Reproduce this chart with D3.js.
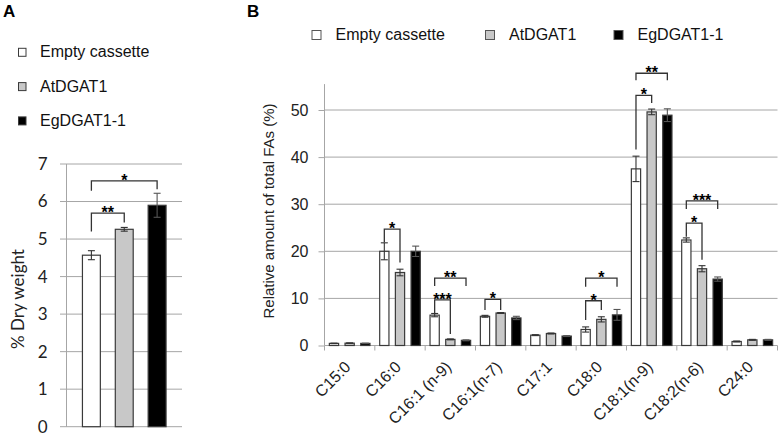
<!DOCTYPE html>
<html>
<head>
<meta charset="utf-8">
<script src="https://cdn.jsdelivr.net/npm/d3@7"></script>
<style>
  html, body { margin: 0; padding: 0; background: #fff; }
  svg { display: block; }
</style>
</head>
<body>
<div id="chart"></div>
<script>
// ---------------- data ----------------
const seriesNames = ["Empty cassette", "AtDGAT1", "EgDGAT1-1"];
const seriesFill = ["#ffffff", "#c8c8c8", "#000000"];

// Panel A: % dry weight
const dryWeightMean = [4.57, 5.26, 5.90];
const dryWeightErr = [0.12, 0.05, 0.32];
const dryWeightTicks = [0, 1, 2, 3, 4, 5, 6, 7];
// brackets: [from series, to series, level, left leg bottom, right leg bottom, label]
const bracketsA = [
  [0, 1, 5.69, 5.20, 5.44, "**"],
  [0, 2, 6.55, 6.29, 6.33, "*"]
];

// Panel B: fatty acid composition
const faCategories = ["C15:0", "C16:0", "C16:1 (n-9)", "C16:1(n-7)", "C17:1", "C18:0", "C18:1(n-9)", "C18:2(n-6)", "C24:0"];
const faEmpty   = [0.45, 20.0, 6.45, 6.2, 2.2, 3.4, 37.5, 22.4, 0.85];
const faAt      = [0.50, 15.5, 1.3, 6.9, 2.55, 5.55, 49.6, 16.3, 1.2];
const faEg      = [0.45, 20.0, 1.1, 5.85, 2.0, 6.5, 48.9, 14.1, 1.2];
const faEmptyErr = [0.05, 1.8, 0.35, 0.2, 0.1, 0.55, 2.7, 0.45, 0.1];
const faAtErr    = [0.05, 0.7, 0.1, 0.1, 0.1, 0.55, 0.6, 0.65, 0.1];
const faEgErr    = [0.05, 1.1, 0.1, 0.35, 0.1, 1.15, 1.35, 0.45, 0.1];
const faTicks = [0, 10, 20, 30, 40, 50];
// brackets: [category index, from series, to series, level, left leg bottom, right leg bottom, label]
const bracketsB = [
  [1, 0, 1, 24.7, 21.9, 17.6, "*"],
  [2, 0, 1, 9.7, 6.9, 2.45, "***"],
  [2, 0, 2, 14.3, 12.65, 12.65, "**"],
  [3, 0, 1, 9.8, 7.55, 7.55, "*"],
  [5, 0, 1, 9.5, 5.4, 7.55, "*"],
  [5, 0, 2, 14.3, 12.5, 12.5, "*"],
  [6, 0, 1, 53.1, 41.6, 51.5, "*"],
  [6, 0, 2, 57.8, 56.3, 56.3, "**"],
  [7, 0, 1, 26.0, 23.1, 18.2, "*"],
  [7, 0, 2, 30.7, 29.0, 29.0, "***"]
];

// ---------------- drawing ----------------
const W = 780, H = 436;
const svg = d3.select("#chart").append("svg").attr("width", W).attr("height", H);

const stroke = "#3a3a3a";
const gridColor = "#a6a6a6";
const fontB = "'Liberation Sans', Arial, sans-serif";
const fontA = "Lato, 'Open Sans', sans-serif";

// ===== Panel A =====
const gA = svg.append("g");
gA.append("text").attr("x", 3).attr("y", 17).attr("font-family", fontB)
  .attr("font-weight", "bold").attr("font-size", 17).text("A");

// legend A
seriesNames.forEach((name, i) => {
  const yb = 57.3 + i * 34.3;
  gA.append("rect").attr("x", 18.5).attr("y", yb - 9).attr("width", 7.5).attr("height", 8)
    .attr("fill", seriesFill[i]).attr("stroke", stroke).attr("stroke-width", 1);
  gA.append("text").attr("x", 40).attr("y", yb).attr("font-family", fontB)
    .attr("font-size", 16).attr("fill", "#111").text(name);
});

const yA = d3.scaleLinear().domain([0, 7]).range([426.7, 164]);
const xA = d3.scaleBand().domain(d3.range(3)).range([66.5, 182]).paddingInner(0.455).paddingOuter(0.485);

// gridlines
gA.append("g").selectAll("line").data(dryWeightTicks).join("line")
  .attr("x1", 60).attr("x2", 182).attr("y1", d => yA(d)).attr("y2", d => yA(d))
  .attr("stroke", gridColor).attr("stroke-width", 1);
// axis
const axisA = d3.axisLeft(yA).tickValues(dryWeightTicks).tickFormat(d3.format("d")).tickSize(0).tickPadding(19);
const axA = gA.append("g").attr("transform", "translate(66.5,0)").call(axisA);
axA.select(".domain").attr("stroke", gridColor).attr("d", `M0,${yA(0)}V${yA(7)}`);
axA.selectAll("text").attr("font-family", fontA).attr("font-size", 17).attr("fill", "#222");
gA.append("text").attr("transform", `translate(24,299) rotate(-90)`)
  .attr("text-anchor", "middle").attr("font-family", fontA).attr("font-size", 17)
  .attr("fill", "#222").text("% Dry weight");

// bars
gA.append("g").selectAll("rect").data(dryWeightMean).join("rect")
  .attr("x", (d, i) => xA(i)).attr("width", xA.bandwidth())
  .attr("y", d => yA(d)).attr("height", d => yA(0) - yA(d))
  .attr("fill", (d, i) => seriesFill[i]).attr("stroke", stroke).attr("stroke-width", 1.2);
// error bars
const ebA = gA.append("g").attr("stroke", "#333").attr("stroke-width", 1.1);
dryWeightMean.forEach((m, i) => {
  const cx = xA(i) + xA.bandwidth() / 2;
  const e = dryWeightErr[i];
  const lo = yA(m - e), hi = yA(m + e);
  const col = i === 2 ? "#555" : "#333";
  ebA.append("line").attr("x1", cx).attr("x2", cx).attr("y1", lo).attr("y2", hi).attr("stroke", col);
  ebA.append("line").attr("x1", cx - 3.5).attr("x2", cx + 3.5).attr("y1", hi).attr("y2", hi).attr("stroke", col);
  ebA.append("line").attr("x1", cx - 3.5).attr("x2", cx + 3.5).attr("y1", lo).attr("y2", lo).attr("stroke", col);
});
// significance brackets
bracketsA.forEach(([a, b, lev, la, lb, lab]) => {
  const xa = xA(a) + xA.bandwidth() / 2, xb = xA(b) + xA.bandwidth() / 2;
  gA.append("path").attr("d", `M${xa},${yA(la)}V${yA(lev)}H${xb}V${yA(lb)}`)
    .attr("fill", "none").attr("stroke", "#333").attr("stroke-width", 1.3);
  gA.append("text").attr("x", (xa + xb) / 2).attr("y", yA(lev) + 5).attr("text-anchor", "middle")
    .attr("font-family", fontB).attr("font-weight", "bold").attr("font-size", 16).text(lab);
});

// ===== Panel B =====
const gB = svg.append("g");
gB.append("text").attr("x", 247).attr("y", 17).attr("font-family", fontB)
  .attr("font-weight", "bold").attr("font-size", 17).text("B");

// legend B
const legBX = [312, 485.5, 614];
seriesNames.forEach((name, i) => {
  gB.append("rect").attr("x", legBX[i]).attr("y", 30.5).attr("width", 9).attr("height", 9)
    .attr("fill", seriesFill[i]).attr("stroke", "#555").attr("stroke-width", 1);
  gB.append("text").attr("x", legBX[i] + 23.5).attr("y", 40).attr("font-family", fontB)
    .attr("font-size", 16).attr("fill", "#111").text(name);
});

const yB = d3.scaleLinear().domain([0, 50]).range([345.5, 110]);
const xB = d3.scaleBand().domain(faCategories).range([324.5, 777.5]).padding(0);
const xS = d3.scaleBand().domain(d3.range(3)).range([0, xB.bandwidth()]).paddingInner(0.41).paddingOuter(0.31);

// gridlines
gB.append("g").selectAll("line").data(faTicks.filter(d => d > 0)).join("line")
  .attr("x1", 324.5).attr("x2", 777.5).attr("y1", d => yB(d)).attr("y2", d => yB(d))
  .attr("stroke", gridColor).attr("stroke-width", 1);

// y axis
const axisB = d3.axisLeft(yB).tickValues(faTicks).tickSize(6).tickPadding(10);
const axB = gB.append("g").attr("transform", "translate(324.5,0)").call(axisB);
axB.select(".domain").attr("stroke", gridColor).attr("d", `M0,${yB(0)}V${yB(55.5)}`);
axB.selectAll(".tick line").attr("stroke", gridColor);
axB.selectAll("text").attr("font-family", fontB).attr("font-size", 16).attr("fill", "#222");
gB.append("text").attr("transform", `translate(274,211) rotate(-90)`)
  .attr("text-anchor", "middle").attr("font-family", fontB).attr("font-size", 15)
  .attr("fill", "#222").text("Relative amount of total FAs (%)");

// x axis
gB.append("line").attr("x1", 324.5).attr("x2", 777.5).attr("y1", yB(0)).attr("y2", yB(0))
  .attr("stroke", gridColor).attr("stroke-width", 1);
const catEdges = faCategories.map(c => xB(c)).concat([xB(faCategories[faCategories.length - 1]) + xB.bandwidth()]);
gB.append("g").selectAll("line").data(catEdges).join("line")
  .attr("x1", d => d).attr("x2", d => d).attr("y1", yB(0)).attr("y2", yB(0) + 5)
  .attr("stroke", gridColor).attr("stroke-width", 1);
gB.append("g").selectAll("text").data(faCategories).join("text")
  .attr("transform", d => `translate(${xB(d) + xB.bandwidth() / 2 + 2},368) rotate(-45)`)
  .attr("text-anchor", "end").attr("font-family", fontB).attr("font-size", 16)
  .attr("fill", "#222").text(d => d);

// bars
const faSeries = [faEmpty, faAt, faEg];
const faErrs = [faEmptyErr, faAtErr, faEgErr];
const barData = [];
faCategories.forEach((c, ci) => {
  for (let s = 0; s < 3; s++) barData.push({ c, ci, s, v: faSeries[s][ci], e: faErrs[s][ci] });
});
gB.append("g").selectAll("rect").data(barData).join("rect")
  .attr("x", d => xB(d.c) + xS(d.s)).attr("width", xS.bandwidth())
  .attr("y", d => yB(d.v)).attr("height", d => yB(0) - yB(d.v))
  .attr("fill", d => seriesFill[d.s]).attr("stroke", stroke).attr("stroke-width", 1.2);

const ebB = gB.append("g").attr("stroke", "#333").attr("stroke-width", 1.1);
barData.forEach(d => {
  const cx = xB(d.c) + xS(d.s) + xS.bandwidth() / 2;
  const lo = yB(d.v - d.e), hi = yB(d.v + d.e);
  const col = d.s === 2 ? "#555" : "#333";
  ebB.append("line").attr("x1", cx).attr("x2", cx).attr("y1", lo).attr("y2", hi).attr("stroke", col);
  ebB.append("line").attr("x1", cx - 3.5).attr("x2", cx + 3.5).attr("y1", hi).attr("y2", hi).attr("stroke", col);
  ebB.append("line").attr("x1", cx - 3.5).attr("x2", cx + 3.5).attr("y1", lo).attr("y2", lo).attr("stroke", col);
});

bracketsB.forEach(([ci, a, b, lev, la, lb, lab]) => {
  const c = faCategories[ci];
  const xa = xB(c) + xS(a) + xS.bandwidth() / 2, xb = xB(c) + xS(b) + xS.bandwidth() / 2;
  gB.append("path").attr("d", `M${xa},${yB(la)}V${yB(lev)}H${xb}V${yB(lb)}`)
    .attr("fill", "none").attr("stroke", "#333").attr("stroke-width", 1.3);
  gB.append("text").attr("x", (xa + xb) / 2).attr("y", yB(lev) + 5).attr("text-anchor", "middle")
    .attr("font-family", fontB).attr("font-weight", "bold").attr("font-size", 16).text(lab);
});
</script>
</body>
</html>
